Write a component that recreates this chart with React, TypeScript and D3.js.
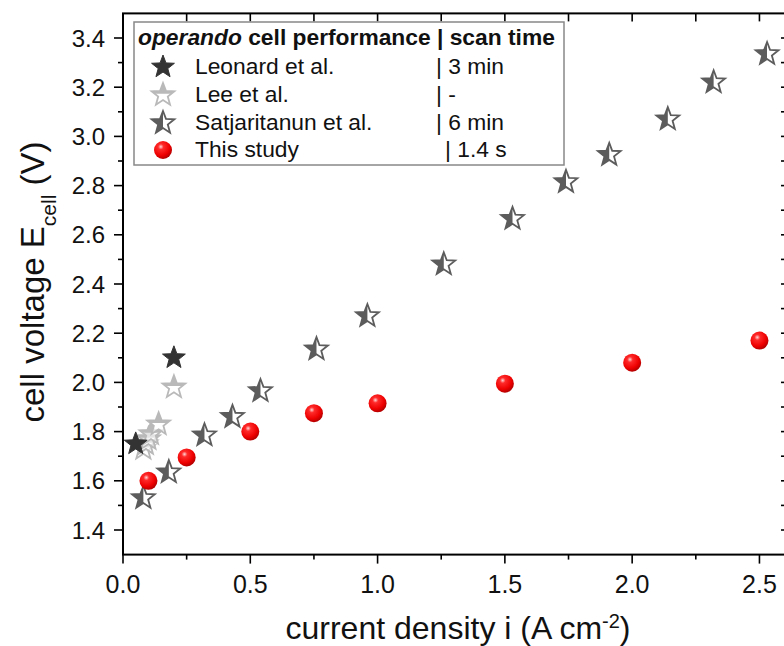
import React from "react";
import * as d3 from "d3";

const leonardX = [0.05, 0.2];
const leonardY = [1.75, 2.1];
const leeX = [0.08, 0.09, 0.1, 0.11, 0.14, 0.2];
const leeY = [1.73, 1.75, 1.77, 1.79, 1.83, 1.98];
const satX = [0.08, 0.18, 0.32, 0.43, 0.54, 0.76, 0.96, 1.26, 1.53, 1.74, 1.91, 2.14, 2.32, 2.53];
const satY = [1.53, 1.635, 1.785, 1.86, 1.965, 2.135, 2.27, 2.48, 2.665, 2.815, 2.925, 3.07, 3.22, 3.335];
const studyX = [0.1, 0.25, 0.5, 0.75, 1.0, 1.5, 2.0, 2.5];
const studyY = [1.6, 1.695, 1.8, 1.875, 1.915, 1.995, 2.08, 2.17];
const xMajor = [0, 0.5, 1.0, 1.5, 2.0, 2.5];
const xMinor = [0.25, 0.75, 1.25, 1.75, 2.25];
const yMajor = [1.4, 1.6, 1.8, 2.0, 2.2, 2.4, 2.6, 2.8, 3.0, 3.2, 3.4];
const yMinor = [1.5, 1.7, 1.9, 2.1, 2.3, 2.5, 2.7, 2.9, 3.1, 3.3];
const legendNames = ["Leonard et al.", "Lee et al.", "Satjaritanun et al.", "This study"];
const legendTimes = ["| 3 min", "| -", "| 6 min", "| 1.4 s"];

const W = 784, H = 646;
const L = 123, R = 790, T = 13.4, B = 554.6;
const x = d3.scaleLinear().domain([0, 2.62]).range([L, R]);
const y = d3.scaleLinear().domain([1.3, 3.5]).range([B, T]);

function starPath(cx: number, cy: number, r: number) {
  const ri = r * 0.42;
  const pts: string[] = [];
  for (let i = 0; i < 10; i++) {
    const a = -Math.PI / 2 + (i * Math.PI) / 5;
    const rr = i % 2 === 0 ? r : ri;
    pts.push(`${(cx + rr * Math.cos(a)).toFixed(2)},${(cy + rr * Math.sin(a)).toFixed(2)}`);
  }
  return "M" + pts.join("L") + "Z";
}

const SAT = "#5c5c5c";
const LEO = "#333333";
const LEE = "#b9b9b9";
const RS = 12;

function SatStar({ cx, cy, id }: { cx: number; cy: number; id: string }) {
  const d = starPath(cx, cy, RS);
  return (
    <g>
      <clipPath id={id}>
        <rect x={cx - RS - 2} y={cy - RS - 2} width={RS + 2} height={2 * RS + 4} />
      </clipPath>
      <path d={d} fill="white" stroke={SAT} strokeWidth={1.8} strokeLinejoin="miter" />
      <path d={d} fill={SAT} clipPath={`url(#${id})`} />
    </g>
  );
}

function LeeStar({ cx, cy, id }: { cx: number; cy: number; id: string }) {
  const d = starPath(cx, cy, RS);
  return (
    <g>
      <clipPath id={id}>
        <rect x={cx - RS - 2} y={cy - RS - 2} width={2 * RS + 4} height={RS * 0.9 + 2} />
      </clipPath>
      <path d={d} fill="white" fillOpacity={0.6} stroke={LEE} strokeWidth={1.8} />
      <path d={d} fill={LEE} clipPath={`url(#${id})`} />
    </g>
  );
}

function LeoStar({ cx, cy }: { cx: number; cy: number }) {
  return <path d={starPath(cx, cy, RS)} fill={LEO} stroke={LEO} strokeWidth={1} />;
}

function Ball({ cx, cy }: { cx: number; cy: number }) {
  return <circle cx={cx} cy={cy} r={9} fill="url(#ballGrad)" />;
}

export default function App() {
  const font = "'Liberation Sans', Arial, sans-serif";
  const lx = 163, tx = 195;
  const rowY = [67, 95, 123, 150];
  return (
    <svg width={W} height={H} style={{ position: "absolute", left: 0, top: 0, background: "white" }} fontFamily={font}>
      <defs>
        <radialGradient id="ballGrad" cx="0.38" cy="0.32" r="0.7">
          <stop offset="0" stopColor="#ffd6d6" />
          <stop offset="0.22" stopColor="#ff2a2a" />
          <stop offset="0.7" stopColor="#ee0000" />
          <stop offset="1" stopColor="#b00000" />
        </radialGradient>
      </defs>
      <rect x={0} y={0} width={W} height={H} fill="white" />

      {leeX.map((v, i) => (
        <LeeStar key={"lee" + i} cx={x(v)} cy={y(leeY[i])} id={"leeclip" + i} />
      ))}
      {satX.map((v, i) => (
        <SatStar key={"sat" + i} cx={x(v)} cy={y(satY[i])} id={"satclip" + i} />
      ))}
      {leonardX.map((v, i) => (
        <LeoStar key={"leo" + i} cx={x(v)} cy={y(leonardY[i])} />
      ))}
      {studyX.map((v, i) => (
        <Ball key={"b" + i} cx={x(v)} cy={y(studyY[i])} />
      ))}

      <rect x={L} y={T} width={R - L} height={B - T} fill="none" stroke="#000" strokeWidth={2} />
      {yMajor.map((v) => (
        <line key={"yl" + v} x1={L - 9} x2={L} y1={y(v)} y2={y(v)} stroke="#000" strokeWidth={1.6} />
      ))}
      {yMinor.map((v) => (
        <line key={"ylm" + v} x1={L - 5} x2={L} y1={y(v)} y2={y(v)} stroke="#000" strokeWidth={1.6} />
      ))}
      {yMajor.concat(yMinor).map((v) => (
        <line key={"yr" + v} x1={R - 9} x2={R} y1={y(v)} y2={y(v)} stroke="#000" strokeWidth={1.6} />
      ))}
      {xMajor.map((v) => (
        <line key={"xb" + v} x1={x(v)} x2={x(v)} y1={B} y2={B + 9} stroke="#000" strokeWidth={1.6} />
      ))}
      {xMinor.map((v) => (
        <line key={"xbm" + v} x1={x(v)} x2={x(v)} y1={B} y2={B + 5} stroke="#000" strokeWidth={1.6} />
      ))}
      {xMajor.concat(xMinor).map((v) => (
        <line key={"xt" + v} x1={x(v)} x2={x(v)} y1={T} y2={T + 8} stroke="#000" strokeWidth={1.6} />
      ))}

      {yMajor.map((v) => (
        <text key={"yt" + v} x={L - 18} y={y(v)} dy="0.36em" textAnchor="end" fontSize={24} fill="#111">
          {v.toFixed(1)}
        </text>
      ))}
      {xMajor.map((v) => (
        <text key={"xtl" + v} x={x(v)} y={593} textAnchor="middle" fontSize={25} fill="#111">
          {v.toFixed(1)}
        </text>
      ))}

      <text transform={`translate(44,282) rotate(-90)`} textAnchor="middle" fontSize={33} fill="#111">
        cell voltage E<tspan baselineShift="sub" fontSize={21}>cell</tspan> (V)
      </text>
      <text x={458} y={639} textAnchor="middle" fontSize={32} fill="#111">
        current density i (A cm<tspan baselineShift="super" fontSize={20}>-2</tspan>)
      </text>

      <rect x={134} y={22} width={430} height={143} fill="white" stroke="#888" strokeWidth={1.5} />
      <text x={138} y={45} fontSize={22.8} fontWeight="bold" fill="#111">
        <tspan fontStyle="italic">operando</tspan> cell performance | scan time
      </text>
      <LeoStar cx={lx} cy={rowY[0]} />
      <LeeStar cx={lx} cy={rowY[1]} id="leeLeg" />
      <SatStar cx={lx} cy={rowY[2]} id="satLeg" />
      <Ball cx={lx} cy={rowY[3]} />
      {legendNames.map((n, i) => (
        <text key={"ln" + i} x={tx} y={rowY[i]} dy="0.32em" fontSize={22.8} fill="#111">
          {n}
        </text>
      ))}
      {legendTimes.map((n, i) => (
        <text key={"lt" + i} x={i === 3 ? 445 : 436} y={rowY[i]} dy="0.32em" fontSize={22.8} fill="#111">
          {n}
        </text>
      ))}
    </svg>
  );
}
